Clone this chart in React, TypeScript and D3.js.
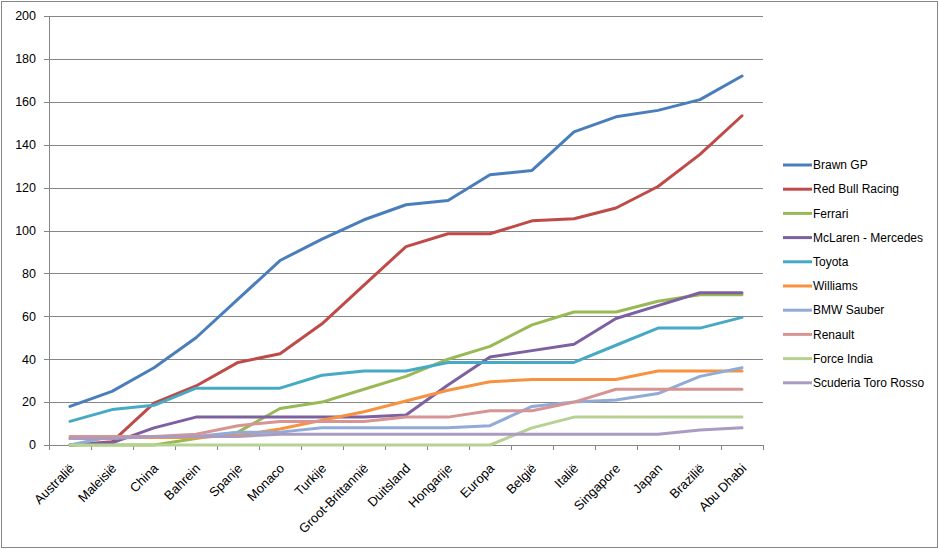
import { useEffect, useRef } from 'react';
import * as d3 from 'd3';

const races = [
    'Australië', 'Maleisië', 'China', 'Bahrein', 'Spanje', 'Monaco', 'Turkije',
    'Groot-Brittannië', 'Duitsland', 'Hongarije', 'Europa', 'België', 'Italië',
    'Singapore', 'Japan', 'Brazilië', 'Abu Dhabi',
];

const brawn = [18, 25, 36, 50, 68, 86, 96, 105, 112, 114, 126, 128, 146, 153, 156, 161, 172];
const redBull = [0, 1.5, 19.5, 27.5, 38.5, 42.5, 56.5, 74.5, 92.5, 98.5, 98.5, 104.5, 105.5, 110.5, 120.5, 135.5, 153.5];
const ferrari = [0, 0, 0, 3, 6, 17, 20, 26, 32, 40, 46, 56, 62, 62, 67, 70, 70];
const mclaren = [0, 1, 8, 13, 13, 13, 13, 13, 14, 28, 41, 44, 47, 59, 65, 71, 71];
const toyota = [11, 16.5, 18.5, 26.5, 26.5, 26.5, 32.5, 34.5, 34.5, 38.5, 38.5, 38.5, 38.5, 46.5, 54.5, 54.5, 59.5];
const williams = [3, 3.5, 3.5, 3.5, 4.5, 7.5, 11.5, 15.5, 20.5, 25.5, 29.5, 30.5, 30.5, 30.5, 34.5, 34.5, 34.5];
const bmw = [0, 4, 4, 4, 6, 6, 8, 8, 8, 8, 9, 18, 20, 21, 24, 32, 36];
const renault = [4, 4, 4, 5, 9, 11, 11, 11, 13, 13, 16, 16, 20, 26, 26, 26, 26];
const forceIndia = [0, 0, 0, 0, 0, 0, 0, 0, 0, 0, 0, 8, 13, 13, 13, 13, 13];
const toroRosso = [3, 3, 4, 4, 4, 5, 5, 5, 5, 5, 5, 5, 5, 5, 5, 7, 8];

const teams = [
    { name: 'Brawn GP', values: brawn, color: '#4a7ebb' },
    { name: 'Red Bull Racing', values: redBull, color: '#be4b48' },
    { name: 'Ferrari', values: ferrari, color: '#98b954' },
    { name: 'McLaren - Mercedes', values: mclaren, color: '#7d60a0' },
    { name: 'Toyota', values: toyota, color: '#46aac5' },
    { name: 'Williams', values: williams, color: '#f69240' },
    { name: 'BMW Sauber', values: bmw, color: '#91abd6' },
    { name: 'Renault', values: renault, color: '#d69593' },
    { name: 'Force India', values: forceIndia, color: '#b7d193' },
    { name: 'Scuderia Toro Rosso', values: toroRosso, color: '#a99bc1' },
];

const yTicks = [0, 20, 40, 60, 80, 100, 120, 140, 160, 180, 200];

const W = 939;
const H = 549;
const plot = { left: 49, right: 763, top: 16, bottom: 445 };
const font = '"Liberation Sans", Arial, sans-serif';

const App = () => {
    const svgRef = useRef<SVGSVGElement>(null);

    useEffect(() => {
        d3.select(svgRef.current).selectAll('*').remove();
        const svg = d3.select(svgRef.current);

        const x = d3.scaleBand().domain(races).range([plot.left, plot.right]);
        const y = d3.scaleLinear().domain([0, 200]).range([plot.bottom, plot.top]);
        const cx = (r: string) => (x(r) ?? 0) + x.bandwidth() / 2;

        // chart border
        svg.append('rect')
            .attr('x', 1.5)
            .attr('y', 1.5)
            .attr('width', W - 3)
            .attr('height', H - 3)
            .attr('fill', 'white')
            .attr('stroke', '#868686');

        // gridlines
        svg.append('g')
            .selectAll('line')
            .data(yTicks.filter(t => t > 0))
            .join('line')
            .attr('x1', plot.left)
            .attr('x2', plot.right)
            .attr('y1', d => Math.round(y(d)) + 0.5)
            .attr('y2', d => Math.round(y(d)) + 0.5)
            .attr('stroke', '#868686');

        // y axis
        const yAxis = svg.append('g');
        yAxis.append('line')
            .attr('x1', plot.left + 0.5)
            .attr('x2', plot.left + 0.5)
            .attr('y1', plot.top)
            .attr('y2', plot.bottom)
            .attr('stroke', '#868686');
        yAxis.selectAll('line.tick')
            .data(yTicks)
            .join('line')
            .attr('class', 'tick')
            .attr('x1', plot.left - 5)
            .attr('x2', plot.left)
            .attr('y1', d => Math.round(y(d)) + 0.5)
            .attr('y2', d => Math.round(y(d)) + 0.5)
            .attr('stroke', '#868686');
        yAxis.selectAll('text')
            .data(yTicks)
            .join('text')
            .attr('x', 36)
            .attr('y', d => y(d))
            .attr('dy', '0.35em')
            .attr('text-anchor', 'end')
            .attr('font-family', font)
            .attr('font-size', 12.5)
            .attr('fill', 'black')
            .text(d => d);

        // x axis
        const xAxis = svg.append('g');
        xAxis.append('line')
            .attr('x1', plot.left)
            .attr('x2', plot.right)
            .attr('y1', plot.bottom + 0.5)
            .attr('y2', plot.bottom + 0.5)
            .attr('stroke', '#868686');
        xAxis.selectAll('line.tick')
            .data([...races.map(r => x(r) ?? 0), plot.right])
            .join('line')
            .attr('class', 'tick')
            .attr('x1', d => Math.round(d) + 0.5)
            .attr('x2', d => Math.round(d) + 0.5)
            .attr('y1', plot.bottom)
            .attr('y2', plot.bottom + 5)
            .attr('stroke', '#868686');
        xAxis.selectAll('text')
            .data(races)
            .join('text')
            .attr('transform', d => `translate(${cx(d) + 2},${plot.bottom + 21}) rotate(-45)`)
            .attr('dy', '0.35em')
            .attr('text-anchor', 'end')
            .attr('font-family', font)
            .attr('font-size', 13)
            .attr('fill', 'black')
            .text(d => d);

        // series lines
        const line = d3
            .line<number>()
            .x((_d, i) => cx(races[i]))
            .y(d => y(d));
        svg.append('g')
            .selectAll('path')
            .data(teams)
            .join('path')
            .attr('d', d => line(d.values))
            .attr('fill', 'none')
            .attr('stroke', d => d.color)
            .attr('stroke-width', 3)
            .attr('stroke-linejoin', 'round')
            .attr('stroke-linecap', 'round');

        // legend
        const legend = svg.append('g')
            .selectAll('g')
            .data(teams)
            .join('g')
            .attr('transform', (_d, i) => `translate(783,${165 + i * 24.2})`);
        legend.append('line')
            .attr('x1', 0)
            .attr('x2', 29)
            .attr('stroke', d => d.color)
            .attr('stroke-width', 3);
        legend.append('text')
            .attr('x', 30)
            .attr('dy', '0.35em')
            .attr('font-family', font)
            .attr('font-size', 12)
            .attr('fill', 'black')
            .text(d => d.name);
    }, []);

    return (
        <div style={{ position: 'absolute', left: 0, top: 0 }}>
            <svg ref={svgRef} width={W} height={H} style={{ display: 'block' }}></svg>
        </div>
    );
};

export default App;
